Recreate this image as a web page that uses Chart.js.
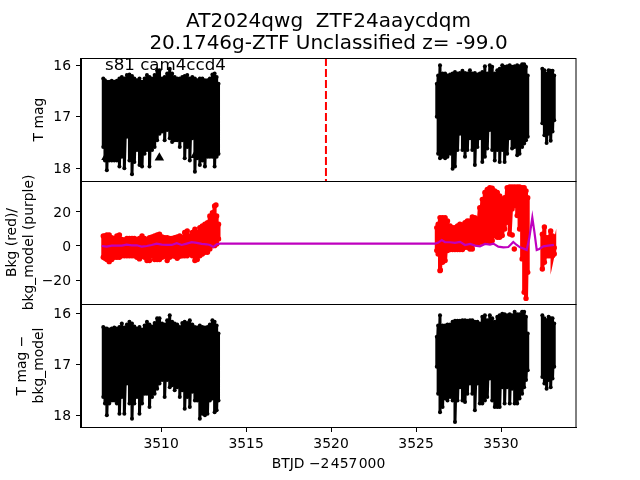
<!DOCTYPE html>
<html><head><meta charset="utf-8">
<style>html,body{margin:0;padding:0;background:#fff}canvas{display:block}</style>
<script src="https://cdn.jsdelivr.net/npm/chart.js@4"></script></head>
<body><canvas id="c" width="640" height="480"></canvas>
<script>
const colTimes=[3506.6,3506.7,3506.81,3506.95,3507.1,3507.25,3507.4,3507.55,3507.69,3507.84,3507.99,3508.14,3508.29,3508.43,3508.58,3508.73,3508.88,3509.03,3509.17,3509.32,3509.47,3509.62,3509.77,3509.91,3510.06,3510.21,3510.36,3510.51,3510.65,3510.8,3510.95,3511.1,3511.25,3511.39,3511.54,3511.69,3511.84,3511.99,3512.13,3512.28,3512.43,3512.58,3512.73,3512.87,3513.02,3513.15,3513.27,3513.38,
3526.22,3526.3,3526.41,3526.56,3526.71,3526.85,3527.0,3527.15,3527.29,3527.44,3527.58,3527.73,3527.88,3528.02,3528.17,3528.31,3528.46,3528.61,3528.75,3528.9,3529.05,3529.19,3529.34,3529.48,3529.63,3529.78,3529.92,3530.07,3530.21,3530.36,3530.51,3530.65,3530.8,3530.95,3531.09,3531.24,3531.36,3531.47,3531.57,
3532.43,3532.55,3532.68,3532.8,3532.92,3533.03,3533.13];
const magHigh=[16.26,16.29,16.32,16.32,16.30,16.32,16.30,16.26,16.23,16.26,16.19,16.18,16.21,16.26,16.29,16.26,16.32,16.26,16.19,16.23,16.26,16.19,16.10,16.10,16.26,16.23,16.16,16.07,16.16,16.23,16.26,16.26,16.23,16.21,16.19,16.26,16.23,16.26,16.29,16.26,16.26,16.29,16.29,16.26,16.18,16.16,16.23,16.36,
16.36,16.20,16.00,16.16,16.16,16.20,16.18,16.16,16.13,16.16,16.15,16.11,16.15,16.16,16.10,16.16,16.15,16.18,16.16,16.13,16.02,16.16,16.00,16.03,16.16,16.10,16.07,16.00,16.03,16.02,16.00,16.03,16.02,16.00,16.02,15.98,15.98,16.03,16.20,
16.07,16.10,16.16,16.10,16.11,16.11,16.20];
const magLow=[17.59,17.85,18.04,17.85,17.85,17.85,17.85,17.97,17.78,18.0,17.39,17.85,18.12,17.88,17.65,17.94,17.97,17.72,17.65,17.97,17.65,17.59,17.46,17.33,17.29,17.46,17.26,17.42,17.49,17.46,17.46,17.59,17.46,17.81,17.59,17.85,17.42,18.07,17.81,17.94,17.85,17.97,17.78,17.78,17.78,17.97,17.78,17.72,
17.00,17.72,17.81,17.78,17.81,17.78,17.72,18.01,17.97,17.65,17.33,17.65,17.78,17.65,17.42,17.65,17.94,17.59,17.42,17.88,17.78,17.62,17.26,17.65,17.85,17.65,17.88,17.65,17.88,17.72,17.42,17.62,17.59,17.75,17.72,17.59,17.52,17.46,17.39,
17.13,17.36,17.51,17.33,17.47,17.29,17.07];
const bkgHigh=[5.9,5.9,6.5,6.5,4.9,4.5,5.9,6.5,3.9,3.5,4.5,4.5,4.5,4.5,3.9,4.5,5.9,4.5,2.95,4.9,5.3,5.9,6.5,6.9,5.3,4.9,4.9,4.5,4.5,4.9,5.3,5.9,4.9,7.9,8.8,5.9,7.9,9.8,7.9,10.8,11.8,12.8,13.7,17.6,19.6,23.5,17.6,12.8,
10.8,12.75,16.7,16.7,16.7,14.7,11.8,10.8,10.8,11.8,12.75,12.4,13.7,14.7,14.7,17.1,16.7,15.7,22.5,27.4,31.4,33.3,34.3,33.9,32.4,31.4,29.4,27.4,28.4,34.3,34.7,34.7,34.7,34.7,34.7,34.3,34.3,32.4,28.4,
6.9,11.2,4.9,4.9,8.8,5.9,-1];
const bkgLow=[-6.65,-7.2,-8.0,-9.2,-8.0,-6.65,-6.65,-6.65,-5.7,-5.7,-5.7,-5.7,-5.7,-5.7,-6.65,-7.6,-6.1,-6.65,-8.6,-8.6,-5.7,-8.0,-8.0,-8.0,-6.65,-6.1,-8.6,-6.65,-5.7,-6.1,-7.2,-6.1,-5.7,-5.7,-5.7,-4.7,-5.7,-8.6,-8.0,-5.7,-4.7,-3.7,-3.7,-1.75,0.2,0.2,1.2,4.1,
-2.7,-4.7,-14.5,-9.6,-8.6,-2.7,-2.1,-2.1,-2.1,-2.1,-2.1,-2.1,-0.8,-0.8,-1.75,-1.75,2.2,1.2,2.2,2.2,3.15,3.15,2.2,3.15,6.1,5.1,5.1,6.1,10,13.9,7.07,21.8,23.7,17.85,10,-7.6,-27.2,-30.8,-15.5,
-13.5,-9.6,-5.7,-5.7,-5.7,-5.7,-4.7];
const subHigh=[16.27,16.30,16.30,16.32,16.30,16.28,16.30,16.27,16.20,16.28,16.22,16.17,16.20,16.26,16.30,16.27,16.32,16.24,16.17,16.22,16.26,16.19,16.10,16.10,16.20,16.22,16.14,16.04,16.17,16.20,16.22,16.27,16.19,16.17,16.19,16.14,16.22,16.27,16.28,16.24,16.27,16.28,16.27,16.22,16.14,16.17,16.24,16.40,
16.46,16.24,16.04,16.24,16.24,16.22,16.22,16.17,16.15,16.15,16.15,16.14,16.14,16.15,16.14,16.14,16.17,16.17,16.20,16.07,16.04,16.14,16.04,16.10,16.17,16.07,16.04,16.01,16.02,16.04,16.02,16.04,15.97,16.02,16.02,15.97,15.97,16.07,16.40,
16.04,16.10,16.14,16.07,16.10,16.10,16.20];
const subLow=[17.64,17.77,18.0,17.77,17.71,17.71,17.77,17.97,17.64,17.97,17.38,17.77,18.07,17.77,17.64,17.97,17.77,17.58,17.58,17.84,17.64,17.58,17.48,17.38,17.31,17.64,17.31,17.45,17.41,17.51,17.45,17.64,17.51,17.87,17.64,17.84,17.54,17.71,17.71,18.07,17.97,18.0,17.97,17.71,17.67,17.94,17.90,17.71,
17.05,17.58,17.94,17.84,17.67,17.71,17.64,17.71,18.13,17.71,17.45,17.71,17.74,17.58,17.38,17.58,17.90,17.38,17.77,17.77,17.71,17.64,17.28,17.71,17.84,17.84,17.84,17.45,17.77,17.45,17.77,17.48,17.77,17.77,17.67,17.58,17.45,17.31,17.12,
17.25,17.38,17.48,17.31,17.45,17.28,17.05];
const modelTimes=[3506.51,3506.8,3507.1,3507.39,3507.69,3507.98,3508.27,3508.57,3508.86,3509.16,3509.45,3509.74,3510.04,3510.33,3510.63,3510.92,3511.21,3511.51,3511.8,3512.1,3512.39,3512.68,3512.88,3513.07,3513.27,3513.47,3526.12,3526.31,3526.51,3526.71,3527.0,3527.29,3527.59,3527.88,3528.18,3528.47,3528.76,3529.06,3529.35,3529.55,3529.84,3530.14,3530.43,3530.72,3530.92,3531.12,3531.51,3531.66,3531.84,3531.96,3532.1,3532.25,3532.49,3532.78,3533.11];
const modelValues=[0,-0.4,0.2,0.2,0.2,0.8,0.4,0.4,-0.4,0,0.6,1.4,0.8,0.6,0.6,1.6,0.6,1.4,2.2,1.8,1.2,1,0.6,-0.6,1,1.4,1.4,2,3.5,2.2,2.2,1.8,2.4,0.6,1.2,0.2,-0.2,1.2,0.8,1.4,-0.4,-0.8,-0.6,2.4,0.6,-0.8,-2.3,4.5,16.7,8.4,-2.3,-1.75,-0.2,0.2,0.6];
const outlierTimes=[3513.23,3526.43,3530.66,3530.78];
const outlierValues=[24.1,-14.1,6.5,-1.75];
const limitTimes=[3506.76,3507.35,3509.9,3512,3513.18];
const limitMags=[17.79,17.77,17.8,17.75,17.7];
const eventTime=[3519.7,3519.7];
const eventMag=[15.86,18.25];
const titleLines=['AT2024qwg  ZTF24aaycdqm','20.1746g-ZTF Unclassified z= -99.0'];
const sectorLabel='s81 cam4ccd4';

function zig(hi,lo){const out=[];colTimes.forEach((t,i)=>{
  if(i&&t-colTimes[i-1]>0.5)out.push({x:t,y:null});
  out.push({x:t,y:hi[i]},{x:t,y:lo[i]});});return out;}
const pairs=(xs,ys)=>xs.map((x,i)=>({x,y:ys[i]}));
const minus=v=>String(v).replace('-','\u2212');
const F='"DejaVu Sans"';
const yCommon=(title,pad,step)=>({
  stack:'p',stackWeight:1,position:'left',
  afterFit:s=>{s.width=81;},
  grid:{drawOnChartArea:false,drawTicks:true,tickLength:5,tickColor:'#000',tickWidth:1},
  border:{display:true,color:'#000',width:1},
  title:{display:true,text:title,color:'#000',font:{family:F,size:13.9},padding:{top:pad,bottom:0}},
  ticks:{color:'#000',font:{family:F,size:13.9},padding:5,labelOffset:1,includeBounds:false,autoSkip:false,stepSize:step,callback:minus}
});
const frame={id:'frame',afterDatasetsDraw(ch){
  const c=ch.ctx,a=ch.chartArea;
  c.save();c.strokeStyle='#000';c.lineWidth=1;
  ['y1','y2','y3'].forEach(id=>{const s=ch.scales[id];
    c.strokeRect(Math.round(a.left)-.5,Math.round(s.top)+.5,Math.round(a.right-a.left)+.5,Math.round(s.bottom-s.top));});
  c.fillStyle='#000';c.textBaseline='middle';
  c.font='16.67px '+F;c.textAlign='left';
  c.fillText(sectorLabel,105,65.5);
  c.font='20px '+F;c.textAlign='center';
  c.fillText(titleLines[0],(a.left+a.right)/2,22);
  c.fillText(titleLines[1],(a.left+a.right)/2,44);
  c.restore();
}};
new Chart(document.getElementById('c'),{
  type:'scatter',
  data:{datasets:[
    {data:pairs(eventTime,eventMag),yAxisID:'y1',showLine:true,borderColor:'#f00',borderWidth:2,borderDash:[8,3],pointRadius:0},
    {data:pairs(limitTimes,limitMags),yAxisID:'y1',pointStyle:'triangle',pointRadius:5.5,backgroundColor:'#000',pointBorderWidth:0},
    {data:zig(magHigh,magLow),yAxisID:'y1',showLine:true,spanGaps:false,borderColor:'#000',borderWidth:3,pointRadius:2,pointBorderWidth:0,backgroundColor:'#000'},
    {data:pairs(modelTimes,modelValues),yAxisID:'y2',showLine:true,borderColor:'#bf00bf',borderWidth:2.2,pointRadius:0},
    {data:pairs(outlierTimes,outlierValues),yAxisID:'y2',pointRadius:2.7,pointBorderWidth:0,backgroundColor:'#f00'},
    {data:zig(bkgHigh,bkgLow),yAxisID:'y2',showLine:true,spanGaps:false,borderColor:'#f00',borderWidth:4,pointRadius:2.7,pointBorderWidth:0,backgroundColor:'#f00'},
    {data:zig(subHigh,subLow),yAxisID:'y3',showLine:true,spanGaps:false,borderColor:'#000',borderWidth:3,pointRadius:2,pointBorderWidth:0,backgroundColor:'#000'}
  ]},
  options:{
    responsive:false,animation:false,
    layout:{padding:{left:0,right:64,top:58,bottom:0}},
    plugins:{legend:{display:false},tooltip:{enabled:false},title:{display:false}},
    scales:{
      x:{type:'linear',position:'bottom',min:3505.29,max:3534.41,
        afterFit:s=>{s.height=53;},
        grid:{drawOnChartArea:false,tickLength:5,tickColor:'#000'},
        border:{display:true,color:'#000'},
        title:{display:true,text:'BTJD \u22122\u200a457\u200a000',color:'#000',font:{family:F,size:13.9},padding:{top:4,bottom:7}},
        ticks:{color:'#000',font:{family:F,size:13.9},stepSize:5,includeBounds:false,maxRotation:0,padding:4,callback:v=>String(v)}},
      y1:Object.assign(yCommon('T mag',31,1),{reverse:true,min:15.86,max:18.25,weight:3}),
      y2:Object.assign(yCommon(['Bkg (red)/','bkg_model (purple)'],4,20),{min:-34.1,max:38.2,weight:2}),
      y3:Object.assign(yCommon(['T mag \u2212','bkg_model'],14,1),{reverse:true,min:15.82,max:18.23,weight:1})
    }
  },
  plugins:[frame]
});
</script></body></html>
